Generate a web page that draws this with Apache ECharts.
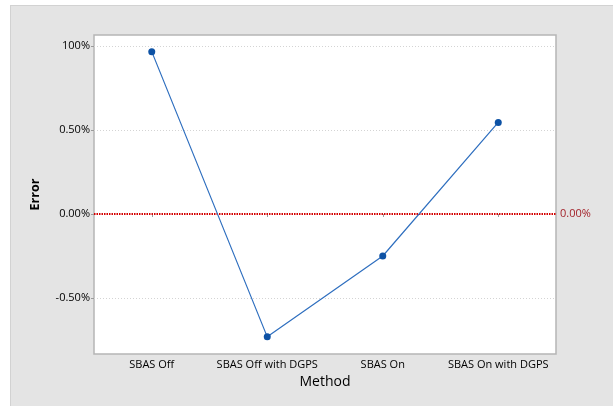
<!DOCTYPE html>
<html>
<head>
<meta charset="utf-8">
<script src="https://cdn.jsdelivr.net/npm/echarts@6/dist/echarts.min.js"></script>
<style>
html,body{margin:0;padding:0;background:#fff;}
#wrap{position:relative;width:613px;height:406px;overflow:hidden;background:#fff;}
#chart{position:absolute;left:10px;top:5px;width:603px;height:401px;background:#e4e4e4;border-top:1px solid #d2d2d2;border-left:1px solid #d2d2d2;box-sizing:border-box;}
</style>
</head>
<body>
<div id="wrap"><div id="chart"></div></div>
<script>
var categories = ['SBAS Off', 'SBAS Off with DGPS', 'SBAS On', 'SBAS On with DGPS'];
var errorValues = [0.966, -0.731, -0.250, 0.545];
var yTickValues = [-0.5, 0, 0.5, 1.0];
var yTickLabels = ['-0.50%', '0.00%', '0.50%', '100%'];
var refValue = 0;
var refLabel = '0.00%';

var font = 'Open Sans';
var chart = echarts.init(document.getElementById('chart'));
var gridLines = yTickValues.filter(function(v){return v !== refValue;}).map(function(v){
  return {yAxis: v, lineStyle: {color: '#d4d4d4', type: [1, 2], width: 1}, label: {show: false}};
});
chart.setOption({
  animation: false,
  textStyle: {fontFamily: font},
  grid: {left: 83, right: 57, top: 29, bottom: 52, show: true, backgroundColor: '#ffffff', borderColor: '#b5b5b5', borderWidth: 1.5},
  xAxis: {
    type: 'category',
    data: categories,
    boundaryGap: true,
    name: 'Method',
    nameLocation: 'middle',
    nameGap: 20,
    nameTextStyle: {fontSize: 14, color: '#000', fontFamily: font},
    axisLine: {show: false},
    axisTick: {show: true, alignWithLabel: true, interval: 0, length: 3, lineStyle: {color: '#9a9a9a'}},
    axisLabel: {fontSize: 11, color: '#000', margin: 5, fontFamily: font, interval: 0, hideOverlap: false},
    splitLine: {show: false}
  },
  yAxis: {
    type: 'value',
    min: -0.833,
    max: 1.065,
    name: 'Error',
    nameLocation: 'middle',
    nameGap: 52,
    nameTextStyle: {fontSize: 12.5, color: '#000', fontWeight: 'bold', fontFamily: font},
    axisLine: {show: false},
    axisTick: {show: true, length: 3, lineStyle: {color: '#9a9a9a'}, customValues: yTickValues},
    axisLabel: {fontSize: 11, color: '#000', margin: 4, fontFamily: font,
      customValues: yTickValues,
      formatter: function(v){
        for (var i = 0; i < yTickValues.length; i++) { if (Math.abs(yTickValues[i] - v) < 1e-6) return yTickLabels[i]; }
        return '';
      }},
    splitLine: {show: false}
  },
  series: [{
    type: 'line',
    data: errorValues,
    symbol: 'circle',
    symbolSize: 7,
    itemStyle: {color: '#0d52a5'},
    lineStyle: {color: '#2f6fbf', width: 1.2},
    z: 5,
    markLine: {
      silent: true,
      symbol: 'none',
      animation: false,
      z: 3,
      data: gridLines.concat([{
        yAxis: refValue,
        lineStyle: {color: '#d40000', type: [1.5, 1], width: 2},
        label: {show: true, position: 'end', formatter: refLabel, color: '#a3232b', fontSize: 11, fontFamily: font, distance: 4}
      }])
    }
  }]
});
</script>
</body>
</html>
